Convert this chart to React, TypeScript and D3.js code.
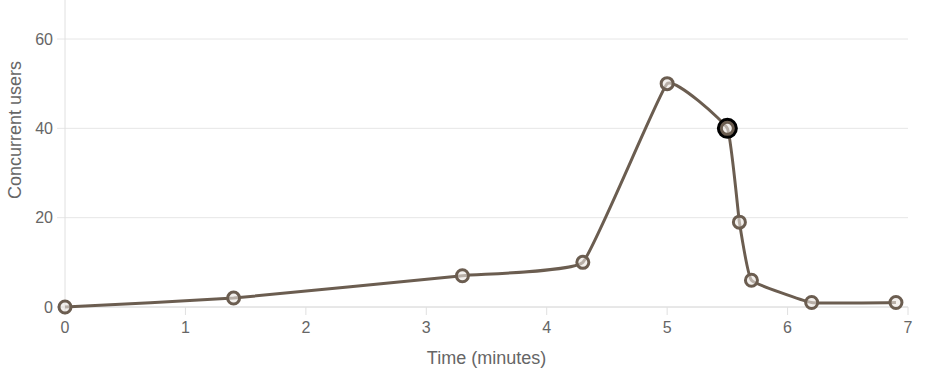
import React from "react";
import * as d3 from "d3";

const timeMinutes = [0, 1.4, 3.3, 4.3, 5, 5.5, 5.6, 5.7, 6.2, 6.9];
const concurrentUsers = [0, 2, 7, 10, 50, 40, 19, 6, 1, 1];
const xTicks = [0, 1, 2, 3, 4, 5, 6, 7];
const yTicks = [0, 20, 40, 60];
const highlightIndex = 5;

const W = 932;
const H = 374;
const left = 65;
const right = 908;
const bottom = 307;
const top = 0;

export default function App() {
  const x = d3.scaleLinear().domain([0, 7]).range([left, right]);
  const y = d3.scaleLinear().domain([0, 60]).range([bottom, 39]);
  const pts = timeMinutes.map((t, i) => [t, concurrentUsers[i]] as [number, number]);
  const line = d3
    .line<[number, number]>()
    .x((d) => x(d[0]))
    .y((d) => y(d[1]))
    .curve(d3.curveCardinal.tension(0.7));
  const color = "#6b5d50";
  const font = "'Liberation Sans', Arial, Helvetica, sans-serif";
  return (
    <svg
      width={W}
      height={H}
      style={{ position: "fixed", left: 0, top: 0, background: "#fff" }}
      fontFamily={font}
    >
      {yTicks.map((t) => (
        <g key={t}>
          <line x1={left - 8} x2={right} y1={y(t)} y2={y(t)} stroke={t === 0 ? "#d0d0d0" : "#e6e6e6"} strokeWidth={1} />
          <text x={left - 12} y={y(t)} dy="0.35em" textAnchor="end" fontSize={16} fill="#666">
            {t}
          </text>
        </g>
      ))}
      <line x1={left} x2={left} y1={top} y2={bottom + 8} stroke="#e0e0e0" strokeWidth={1} />
      {xTicks.map((t) => (
        <g key={t}>
          <line x1={x(t)} x2={x(t)} y1={bottom} y2={bottom + 8} stroke="#e0e0e0" strokeWidth={1} />
          <text x={x(t)} y={333} textAnchor="middle" fontSize={16} fill="#666">
            {t}
          </text>
        </g>
      ))}
      <text x={(left + right) / 2} y={364} textAnchor="middle" fontSize={18} fill="#666">
        Time (minutes)
      </text>
      <text
        transform={`translate(21, 130) rotate(-90)`}
        textAnchor="middle"
        fontSize={18}
        fill="#666"
      >
        Concurrent users
      </text>
      <path d={line(pts) || ""} fill="none" stroke={color} strokeWidth={3} />
      {pts.map((d, i) => (
        <g key={i}>
          {i === highlightIndex && (
            <circle cx={x(d[0])} cy={y(d[1])} r={8.5} fill="none" stroke="#000" strokeWidth={4} />
          )}
          <circle cx={x(d[0])} cy={y(d[1])} r={6} fill="rgba(235,230,225,0.6)" stroke={color} strokeWidth={3} />
        </g>
      ))}
    </svg>
  );
}
